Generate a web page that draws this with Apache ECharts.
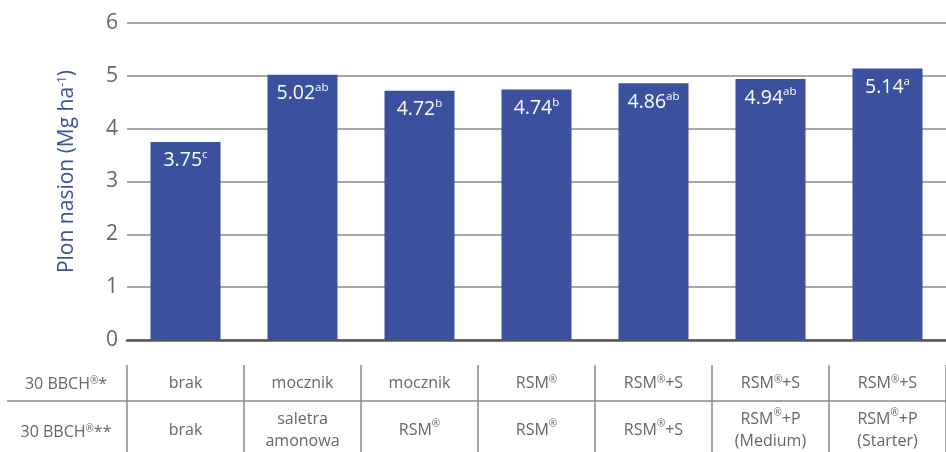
<!DOCTYPE html>
<html>
<head>
<meta charset="utf-8">
<script src="https://cdn.jsdelivr.net/npm/echarts@6/dist/echarts.min.js"></script>
<style>html,body{margin:0;padding:0;background:#fff}#c{width:946px;height:452px}</style>
</head>
<body>
<div id="c"></div>
<script>
var row1Labels = ['brak', 'mocznik', 'mocznik', 'RSM®', 'RSM®+S', 'RSM®+S', 'RSM®+S'];
var row2Labels = ['brak', 'saletra\namonowa', 'RSM®', 'RSM®', 'RSM®+S', 'RSM®+P\n(Medium)', 'RSM®+P\n(Starter)'];
var values = [3.75, 5.02, 4.72, 4.74, 4.86, 4.94, 5.14];
var letters = ['c', 'ab', 'b', 'b', 'ab', 'ab', 'a'];
var rowHeaders = ['30 BBCH®*', '30 BBCH®**'];
var yTicks = [0, 1, 2, 3, 4, 5, 6];

var FONT = '"Open Sans", sans-serif';
var GRAY = '#666';
var LINE = '#8a8a8a';
var BLUE = '#3c519e';

function reg(s) { return s.replace(/®/g, '{r|®}'); }
var regRich = { r: { fontSize: 10, verticalAlign: 'top', color: GRAY, fontFamily: FONT } };

var chart = echarts.init(document.getElementById('c'), null, { renderer: 'canvas' });
var option = {
  animation: false,
  grid: { left: 127, right: -9, top: 23, bottom: 111, containLabel: false },
  xAxis: [
    {
      type: 'category',
      data: row1Labels,
      position: 'bottom',
      axisLine: { show: true, lineStyle: { color: '#555', width: 2.5 } },
      axisTick: { show: false },
      axisLabel: {
        interval: 0, hideOverlap: false,
        margin: 43, verticalAlign: 'middle', color: GRAY, fontSize: 16, fontFamily: FONT,
        formatter: function (v) { return reg(v); }, rich: regRich
      }
    },
    {
      type: 'category',
      data: row2Labels,
      position: 'bottom',
      offset: 25,
      axisLine: { show: false },
      axisTick: { show: true, interval: 0, length: 90, alignWithLabel: false, lineStyle: { color: LINE, width: 1.5 } },
      axisLabel: {
        interval: 0, hideOverlap: false,
        margin: 65, verticalAlign: 'middle', lineHeight: 22, color: GRAY, fontSize: 16, fontFamily: FONT,
        formatter: function (v) { return reg(v); },
        rich: { r: { fontSize: 10, verticalAlign: 'top', color: GRAY, fontFamily: FONT, lineHeight: 22 } }
      }
    }
  ],
  yAxis: {
    type: 'value',
    min: yTicks[0], max: yTicks[yTicks.length - 1], interval: 1,
    axisLine: { show: false },
    axisTick: { show: false },
    splitLine: { show: true, lineStyle: { color: LINE, width: 1.5 } },
    axisLabel: { margin: 9, color: GRAY, fontSize: 21, fontFamily: FONT },
    name: 'Plon nasion (Mg ha{s|-1})',
    nameLocation: 'middle',
    nameGap: 49,
    nameRotate: 90,
    nameTextStyle: {
      color: BLUE, fontSize: 21, fontFamily: FONT, padding: [0, 0, 0, 20],
      rich: { s: { fontSize: 12, verticalAlign: 'top', color: BLUE, fontFamily: FONT } }
    }
  },
  series: [{
    type: 'bar',
    xAxisIndex: 0,
    data: values,
    barWidth: 70,
    itemStyle: { color: BLUE },
    label: {
      show: true,
      position: 'insideTop',
      distance: 7,
      formatter: function (p) { return '{v|' + p.value.toFixed(2) + '}{s|' + letters[p.dataIndex] + '}'; },
      rich: {
        v: { color: '#fff', fontSize: 19.5, fontFamily: FONT, lineHeight: 24 },
        s: { color: '#fff', fontSize: 11.5, fontFamily: FONT, verticalAlign: 'top', lineHeight: 24 }
      }
    }
  }],
  graphic: [
    { type: 'line', shape: { x1: 7, y1: 401, x2: 946, y2: 401 }, style: { stroke: LINE, lineWidth: 1.5 } },
    { type: 'text', x: 66, y: 384, style: { text: reg(rowHeaders[0]), rich: regRich, fill: GRAY, fontSize: 16, fontFamily: FONT, align: 'center', verticalAlign: 'middle' } },
    { type: 'text', x: 66, y: 432, style: { text: reg(rowHeaders[1]), rich: regRich, fill: GRAY, fontSize: 16, fontFamily: FONT, align: 'center', verticalAlign: 'middle' } }
  ]
};
chart.setOption(option);
</script>
</body>
</html>
